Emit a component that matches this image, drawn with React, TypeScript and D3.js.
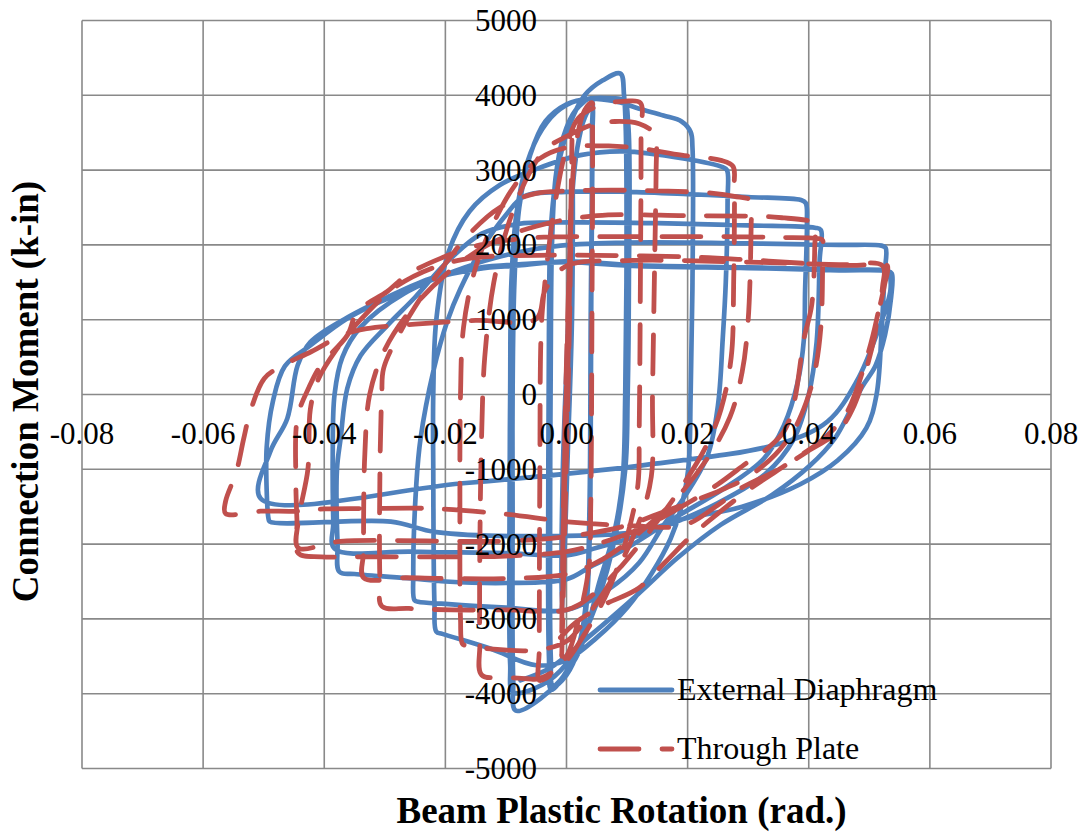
import React from 'react';
import * as d3 from 'd3';

const W = 1082;
const H = 832;

const xTicks = [-0.08, -0.06, -0.04, -0.02, 0, 0.02, 0.04, 0.06, 0.08];
const yTicks = [-5000, -4000, -3000, -2000, -1000, 0, 1000, 2000, 3000, 4000, 5000];

const seriesNames = ['External Diaphragm', 'Through Plate'];

// [beam plastic rotation (rad), connection moment (k-in)]
const externalDiaphragm: number[][] = [
  [0, 0], [0.0005, 1200], [0.001, 2200], [0.0008, 800], [0.0002, -800], [-0.0004, -2200], [-0.0002, -800],
  [0.0003, 800], [0.001, 2800], [0.0009, 1000], [0.0, -1200], [-0.0008, -2900], [-0.0006, -1000], [0.0003, 1000],
  [0.0008, 2500], [0.0018, 3300], [0.003, 3700], [0.0042, 3850],
  [0.0043, 3500], [0.0041, 1500], [0.004, -500], [0.0038, -2000], [0.0032, -2900], [0.002, -3400], [0.0, -3750], [-0.0022, -3900],
  [-0.0026, -3500], [-0.0027, -1500], [-0.0026, 500], [-0.0024, 2000], [-0.0018, 2900], [-0.0005, 3450], [0.0015, 3800], [0.004, 3950],
  [0.0042, 3500], [0.004, 1000], [0.0038, -1500], [0.0033, -2700], [0.0022, -3300], [0.0, -3700], [-0.0025, -3950],
  [-0.0029, -3500], [-0.003, -1000], [-0.0029, 800], [-0.0026, 2200], [-0.0015, 3000], [0.0005, 3600], [0.003, 4000], [0.006, 4200], [0.0089, 4290],
  [0.0095, 4000], [0.0098, 3500], [0.0099, 1500], [0.0097, 0], [0.0093, -1100], [0.008, -1800], [0.0056, -2460], [0.0015, -3530], [-0.0043, -4065], [-0.0084, -4225],
  [-0.0088, -3800], [-0.0089, -1500], [-0.0089, 0], [-0.0086, 1500], [-0.0078, 2500], [-0.006, 3200], [-0.0035, 3650], [0.0, 3880], [0.004, 3960], [0.0075, 3960], [0.0095, 3930],
  [0.0102, 3600], [0.0103, 1500], [0.0101, 0], [0.0097, -1000], [0.0075, -2100], [0.004, -3000], [0.0, -3600], [-0.004, -3880], [-0.0088, -3980],
  [-0.0093, -3600], [-0.0094, -1500], [-0.0093, 0], [-0.0091, 1500], [-0.0083, 2400], [-0.0065, 3100], [-0.004, 3550], [-0.001, 3820], [0.003, 3950], [0.008, 3920], [0.012, 3820], [0.016, 3730], [0.019, 3650], [0.0205, 3510],
  [0.0208, 3300], [0.0208, 1500], [0.0205, 0], [0.0201, -1000], [0.0188, -1550], [0.0172, -1925], [0.014, -2400], [0.01, -2850], [0.005, -3250], [0.0, -3550], [-0.005, -3620], [-0.0125, -3400], [-0.0205, -3200], [-0.0215, -3170],
  [-0.0218, -2800], [-0.022, -1000], [-0.022, 0], [-0.0215, 1000], [-0.0195, 1900], [-0.016, 2450], [-0.011, 2800], [-0.0048, 3020], [0.0023, 3200], [0.0094, 3250], [0.0193, 3155], [0.0258, 3040], [0.0265, 3000],
  [0.0266, 2600], [0.0263, 1500], [0.0258, 750], [0.025, -150], [0.0233, -815], [0.0193, -1390], [0.016, -1750], [0.012, -2250], [0.007, -2600], [0.0, -2880], [-0.01, -2850], [-0.02, -2800], [-0.0245, -2770], [-0.0251, -2750],
  [-0.0253, -2400], [-0.0248, -1200], [-0.0241, -590], [-0.022, 307], [-0.0197, 976], [-0.0175, 1417], [-0.014, 1950], [-0.01, 2400], [-0.007, 2650], [0.0, 2710], [0.01, 2710], [0.02, 2680], [0.03, 2640], [0.0387, 2600], [0.0395, 2560],
  [0.0397, 2300], [0.0394, 1400], [0.0392, 740], [0.0382, 173], [0.0359, -414], [0.0326, -855], [0.026, -1257], [0.0177, -1657], [0.01, -2050], [0.004, -2300], [0.0, -2470], [-0.01, -2520], [-0.02, -2500], [-0.0256, -2460], [-0.035, -2400], [-0.0375, -2370],
  [-0.0378, -2000], [-0.0379, -1000], [-0.0373, -588], [-0.0362, 80], [-0.034, 520], [-0.0296, 922], [-0.025, 1300], [-0.02, 1750], [-0.014, 2150], [-0.008, 2280], [0.0, 2300], [0.015, 2290], [0.03, 2260], [0.041, 2230], [0.042, 2200],
  [0.0418, 1800], [0.0413, 700], [0.04, 0], [0.0375, -600], [0.033, -1050], [0.025, -1450], [0.015, -1800], [0.005, -2050], [0.0, -2150], [-0.01, -2120], [-0.0256, -2100], [-0.0383, -2060],
  [-0.0385, -1700], [-0.0386, -800], [-0.0383, 0], [-0.037, 500], [-0.034, 900], [-0.0268, 1350], [-0.0168, 1700], [-0.008, 1900], [-0.001, 1990], [0.01, 2030], [0.03, 2020], [0.045, 2000], [0.052, 1990], [0.0527, 1960],
  [0.0525, 1600], [0.052, 800], [0.0512, 0], [0.0495, -450], [0.0448, -880], [0.0386, -1200], [0.029, -1500], [0.019, -1670], [0.0123, -1830], [0.0, -1890], [-0.0215, -1840], [-0.029, -1700], [-0.049, -1700], [-0.0492, -1660],
  [-0.0495, -1300], [-0.0495, -700], [-0.0485, -100], [-0.0465, 380], [-0.0423, 655], [-0.0362, 1016], [-0.0296, 1283], [-0.022, 1550], [-0.0145, 1680], [-0.0079, 1725], [0.0, 1780], [0.012, 1725], [0.03, 1700], [0.045, 1670], [0.0528, 1660], [0.0532, 1640],
  [0.0535, 1400], [0.0514, 842], [0.0479, 174], [0.0431, -361], [0.0353, -655], [0.0122, -950], [-0.0175, -1190], [-0.0505, -1390],
  [-0.0489, -762], [-0.0461, -320], [-0.0444, 388], [-0.0423, 700], [-0.0362, 1030], [-0.0296, 1300], [-0.022, 1565], [-0.0145, 1695], [-0.0079, 1740], [0.0, 1770], [0.012, 1715], [0.03, 1690], [0.045, 1660], [0.053, 1650], [0.0537, 1620],
  [0.0536, 1300], [0.0526, 800], [0.051, 380], [0.0488, 100], [0.0443, -588], [0.0402, -950], [0.034, -1340], [0.0255, -1740], [0.0184, -2180], [0.0118, -2670], [0.0041, -3210], [-0.0028, -3660], [-0.0076, -3820],
];

const throughPlate: number[][] = [
  [0, 0], [0.0003, 1200], [0.0006, 2000], [0.0003, 600], [-0.0003, -1200], [-0.0006, -2000], [-0.0002, -500],
  [0.0004, 1500], [0.0008, 2800], [0.0005, 1000], [-0.0002, -1500], [-0.0006, -2800], [-0.0003, -800],
  [0.0005, 1500], [0.0009, 3400], [0.0006, 1500], [-0.0002, -1500], [-0.0008, -3500], [-0.0004, -1000], [0.0006, 2000],
  [0.0015, 3300], [0.003, 3800], [0.0042, 3900],
  [0.0043, 3500], [0.0042, 1000], [0.004, -1500], [0.0037, -2300], [0.002, -3000], [0.0, -3500], [-0.0035, -3800], [-0.0045, -3820],
  [-0.0045, -3400], [-0.0044, -1000], [-0.0042, 800], [-0.0038, 1300], [-0.002, 2500], [0.0, 3300], [0.002, 3700], [0.006, 3880], [0.0095, 3920], [0.0122, 3900],
  [0.0123, 3500], [0.0122, 1500], [0.012, -500], [0.0118, -1200], [0.01, -1900], [0.007, -2600], [0.003, -3200], [-0.0005, -3600], [-0.0046, -3800], [-0.0064, -3800], [-0.01, -3780], [-0.014, -3750],
  [-0.0143, -3300], [-0.0143, -2000], [-0.014, -500], [-0.0135, 500], [-0.012, 1500], [-0.0095, 2300], [-0.006, 2980], [-0.0033, 3290], [0.0, 3450], [0.004, 3600], [0.008, 3650], [0.012, 3620], [0.0145, 3500], [0.0148, 3450],
  [0.0148, 3000], [0.0145, 1500], [0.0142, 0], [0.014, -1100], [0.012, -1700], [0.008, -2400], [0.004, -2900], [0.0, -3300], [-0.0055, -3420], [-0.0125, -3400], [-0.0165, -3360], [-0.0172, -3330],
  [-0.0175, -3000], [-0.0176, -1500], [-0.0175, 0], [-0.017, 900], [-0.015, 1700], [-0.012, 2300], [-0.0085, 2800], [-0.0045, 3150], [0.0, 3300], [0.01, 3310], [0.019, 3200], [0.0255, 3130], [0.0275, 3050],
  [0.0277, 2800], [0.0276, 1500], [0.0272, 500], [0.0255, -200], [0.023, -700], [0.0193, -1200], [0.014, -1800], [0.009, -2300], [0.004, -2700], [0.0, -2880], [-0.01, -2880], [-0.019, -2880], [-0.026, -2860], [-0.0305, -2830],
  [-0.0308, -2500], [-0.0308, -1000], [-0.0305, 0], [-0.0302, 348], [-0.0274, 842], [-0.024, 1300], [-0.02, 1750], [-0.016, 2150], [-0.011, 2500], [-0.005, 2690], [0.0, 2720], [0.01, 2730], [0.0243, 2690], [0.0277, 2650], [0.0305, 2590],
  [0.0305, 2300], [0.03, 1000], [0.029, 300], [0.027, -300], [0.0233, -850], [0.018, -1400], [0.012, -1850], [0.006, -2200], [0.0, -2400], [-0.01, -2460], [-0.02, -2460], [-0.0265, -2450], [-0.0335, -2450],
  [-0.0335, -2100], [-0.0335, -1660], [-0.0333, -800], [-0.0325, 0], [-0.03, 600], [-0.026, 1100], [-0.02, 1600], [-0.013, 2000], [-0.005, 2250], [0.005, 2390], [0.02, 2390], [0.0325, 2380], [0.036, 2360], [0.0395, 2330], [0.041, 2300],
  [0.041, 2000], [0.0405, 1200], [0.0392, 740], [0.0376, -100], [0.036, -480], [0.0332, -720], [0.03, -900], [0.025, -1200], [0.019, -1500], [0.012, -1800], [0.005, -2000], [0.0, -2100], [-0.01, -2160], [-0.02, -2170], [-0.0343, -2170], [-0.0405, -2170], [-0.0443, -2120],
  [-0.0445, -1700], [-0.0447, -1100], [-0.0444, -300], [-0.0425, 100], [-0.0406, 388], [-0.0362, 790], [-0.0345, 1110], [-0.0296, 1377], [-0.0263, 1600], [-0.0208, 1820], [-0.0142, 2000], [-0.005, 2100], [0.005, 2110], [0.02, 2110], [0.028, 2110], [0.035, 2100], [0.042, 2080], [0.0423, 2060],
  [0.0423, 1800], [0.042, 900], [0.041, 300], [0.0396, -100], [0.0375, -480], [0.0345, -800], [0.03, -1100], [0.0255, -1280], [0.02, -1450], [0.015, -1600], [0.01, -1750], [0.0, -1900], [-0.01, -1960], [-0.0374, -1965], [-0.0443, -2050],
  [-0.0443, -1700], [-0.0427, -1000], [-0.0423, -200], [-0.041, 200], [-0.038, 600], [-0.034, 1000], [-0.028, 1450], [-0.021, 1725], [-0.015, 1830], [-0.005, 1860], [0.005, 1860], [0.02, 1840], [0.03, 1800], [0.04, 1750], [0.047, 1725], [0.052, 1740], [0.053, 1720],
  [0.0525, 1460], [0.0513, 1015], [0.0508, 749], [0.0475, -147], [0.0448, -495], [0.0398, -762], [0.0353, -990], [0.0287, -1257], [0.0249, -1484], [0.0193, -1750], [0.01, -1750], [0.0, -1700], [-0.01, -1600], [-0.022, -1525], [-0.033, -1525], [-0.04, -1530], [-0.0445, -1560], [-0.0505, -1560], [-0.0563, -1590],
  [-0.0563, -1430], [-0.0545, -1030], [-0.0533, -590], [-0.0522, -227], [-0.0499, 214], [-0.0472, 374], [-0.0421, 575], [-0.0368, 800], [-0.033, 880], [-0.025, 940], [-0.015, 990], [-0.005, 1010],
  [-0.0035, 1400], [0.0, 1720], [0.01, 1790], [0.03, 1770], [0.045, 1735], [0.0522, 1720],
  [0.0522, 1450], [0.0512, 1000], [0.0496, 500], [0.0462, -250], [0.042, -620], [0.037, -900], [0.0305, -1250], [0.0255, -1560], [0.0205, -1900], [0.0162, -2250], [0.0119, -2590], [0.006, -2820], [0.0015, -3050], [-0.001, -3250],
];

const BLUE = '#4F81BD';
const RED = '#C0504D';
const GRID = '#898989';
const FONT = "'Liberation Serif', 'Times New Roman', serif";

export default function App() {
  const x = d3.scaleLinear().domain([-0.08, 0.08]).range([82, 1051]);
  const y = d3.scaleLinear().domain([-5000, 5000]).range([768.5, 20.5]);
  const line = d3
    .line<number[]>()
    .x((d) => x(d[0]))
    .y((d) => y(d[1]))
    .curve(d3.curveCatmullRom.alpha(0.5));

  const fmtX = (t: number) => t.toFixed(2);
  const [x0, x1] = x.range();
  const [yb, yt] = y.range();

  return (
    <svg
      width={W}
      height={H}
      viewBox={`0 0 ${W} ${H}`}
      style={{ position: 'absolute', left: 0, top: 0, display: 'block' }}
      fontFamily={FONT}
    >
      <rect x={0} y={0} width={W} height={H} fill="#ffffff" />
      <g>
        {xTicks.map((t) => (
          <line key={'gx' + t} x1={x(t)} x2={x(t)} y1={yt} y2={yb} stroke={GRID} strokeWidth={1.6} />
        ))}
        {yTicks.map((t) => (
          <line key={'gy' + t} x1={x0} x2={x1} y1={y(t)} y2={y(t)} stroke={GRID} strokeWidth={1.6} />
        ))}
      </g>
      <path
        d={line(externalDiaphragm) || ''}
        fill="none"
        stroke={BLUE}
        strokeWidth={4.7}
        strokeLinejoin="round"
        strokeLinecap="round"
      />
      <path
        d={line(throughPlate) || ''}
        fill="none"
        stroke={RED}
        strokeWidth={4.8}
        strokeLinejoin="round"
        strokeLinecap="round"
        strokeDasharray="39 23"
      />
      <g fontSize={31} fill="#000">
        {yTicks.map((t) => (
          <text key={'ty' + t} x={537} y={y(t) + 10.5} textAnchor="end">
            {String(t)}
          </text>
        ))}
        {xTicks.map((t) => (
          <text key={'tx' + t} x={x(t)} y={443.5} textAnchor="middle">
            {fmtX(t)}
          </text>
        ))}
      </g>
      <g>
        <line x1={600} x2={672} y1={690} y2={690} stroke={BLUE} strokeWidth={4.8} strokeLinecap="round" />
        <text x={677} y={700} fontSize={32} fill="#000">
          {seriesNames[0]}
        </text>
        <line
          x1={600}
          x2={672}
          y1={749}
          y2={749}
          stroke={RED}
          strokeWidth={4.8}
          strokeLinecap="round"
          strokeDasharray="39 23"
        />
        <text x={677} y={759} fontSize={32} fill="#000">
          {seriesNames[1]}
        </text>
      </g>
      <text x={621.5} y={823} fontSize={37} fontWeight="bold" textAnchor="middle" fill="#000">
        Beam Plastic Rotation (rad.)
      </text>
      <text
        transform="translate(37.5,391.5) rotate(-90)"
        fontSize={37}
        fontWeight="bold"
        textAnchor="middle"
        fill="#000"
      >
        Connection Moment (k-in)
      </text>
    </svg>
  );
}
